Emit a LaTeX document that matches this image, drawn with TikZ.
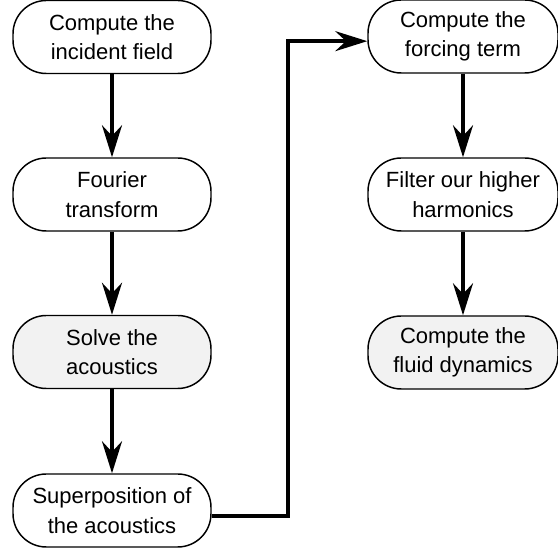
\documentclass[tikz,border=0pt]{standalone}
\usepackage{fontspec}
\setmainfont{Liberation Sans}
\usepackage{xcolor}
\usetikzlibrary{arrows.meta, shapes}

\definecolor{stepgray}{RGB}{242,242,242}

\begin{document}
\begin{tikzpicture}[x=0.75pt, y=-0.75pt,
    stepbox/.style={rectangle, draw, line width=1.1pt, rounded corners=25pt,
        minimum width=148.5pt, minimum height=54.75pt, align=center,
        font=\fontsize{16.5pt}{22pt}\selectfont},
    narrowbox/.style={stepbox, minimum width=142.5pt},
    shaded/.style={fill=stepgray},
    flow/.style={line width=2.6pt, -{Stealth[length=24pt, width=15pt, inset=8pt]}}]
            \useasboundingbox (0,0) rectangle (558,552);

            % Nodes
            \node [stepbox] (incident) at (112,37) {Compute the\\incident field};
            \node [stepbox] (fourier) at (112,194.5) {Fourier\\transform};
            \node [stepbox, shaded] (solve) at (112,352) {Solve the\\acoustics};
            \node [stepbox] (superpos) at (112,510.5) {Superposition of\\the acoustics};

            \node [narrowbox] (forcing) at (463,36.5) {Compute the\\forcing term};
            \node [narrowbox] (filter) at (463,194.5) {Filter our higher\\harmonics};
            \node [narrowbox, shaded] (fluid) at (463,352.5) {Compute the\\fluid dynamics};

            % Paths
            \draw[flow] (incident) -- (fourier);
            \draw[flow] (fourier) -- (solve);
            \draw[flow] (solve) -- (superpos);
            \draw[flow] (forcing) -- (filter);
            \draw[flow] (filter) -- (fluid);

            % Link between the columns
            \coordinate (supout) at ([yshift=-4pt]superpos.east);
            \coordinate (forcin) at ([yshift=-3.5pt]forcing.west);
            \coordinate (bend) at (288,0);
            \draw[flow] (supout) -| (bend |- forcin) -- (forcin);
        \end{tikzpicture}
\end{document}
